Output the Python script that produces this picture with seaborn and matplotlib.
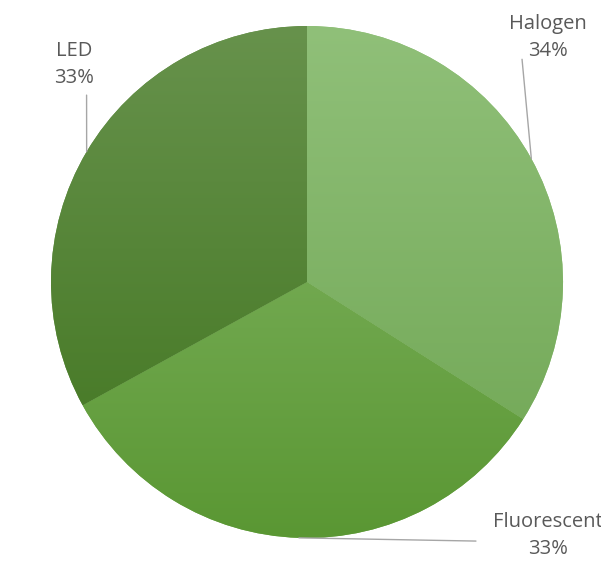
import numpy as np
import matplotlib
matplotlib.use('Agg')
import matplotlib.pyplot as plt
import matplotlib.colors as mcolors
import seaborn as sns

# data
labels = ['Halogen', 'Fluorescent', 'LED']
shares = [34, 33, 33]
# gradient colours per slice (top, bottom)
top_colors = ['#90c079', '#71a84f', '#67924c']
bottom_colors = ['#76ab5b', '#5a9733', '#4a7c2a']
# label centres and leader-line ends (data units, radius = 1)
label_pos = [(0.94, 0.955), (0.94, -0.99), (-0.91, 0.85)]
line_end = [(0.84, 0.87), (0.66, -1.012), (-0.861, 0.73)]

sns.set_style('white')
plt.rcParams['font.family'] = ['Open Sans', 'DejaVu Sans']

fig = plt.figure(figsize=(6.01, 5.84), dpi=100)
ax = fig.add_axes([0, 0, 1, 1])

wedges, _ = ax.pie(shares, startangle=90, counterclock=False, radius=1,
                   colors=top_colors, wedgeprops=dict(linewidth=0))

# vertical gradient fill clipped to each wedge
for w, c_top, c_bot in zip(wedges, top_colors, bottom_colors):
    th = np.radians(np.linspace(w.theta1, w.theta2, 200))
    ys = np.concatenate([[0], np.sin(th)])
    y0, y1 = ys.min(), ys.max()
    cmap = mcolors.LinearSegmentedColormap.from_list('g', [c_bot, c_top])
    grad = np.linspace(0, 1, 256).reshape(-1, 1)
    im = ax.imshow(grad, cmap=cmap, origin='lower', aspect='auto',
                   extent=[-1.05, 1.05, y0, y1], zorder=2, interpolation='bilinear')
    im.set_clip_path(w)

# labels with leader lines
for w, lab, val, (tx, ty), (ex, ey) in zip(wedges, labels, shares, label_pos, line_end):
    mid = np.radians((w.theta1 + w.theta2) / 2)
    sx, sy = np.cos(mid), np.sin(mid)
    ax.plot([sx, ex], [sy, ey], color='#a6a6a6', lw=1, zorder=3)
    ax.text(tx, ty, f'{lab}\n{val}%', ha='center', va='center', fontsize=14.5,
            color='#595959', linespacing=1.45, zorder=4)

ax.set_xlim(-307 / 256, (601 - 307) / 256)
ax.set_ylim((282 - 584) / 256, 282 / 256)
ax.set_aspect('auto')
ax.axis('off')

fig.savefig('out.png', dpi=100, facecolor='white')
